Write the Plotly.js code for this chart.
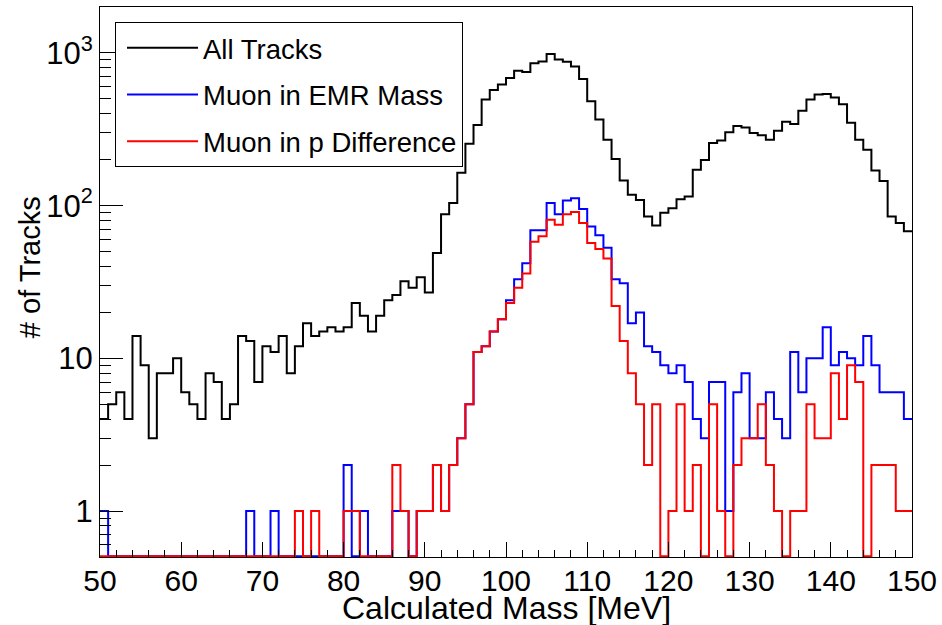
<!DOCTYPE html>
<html><head><meta charset="utf-8">
<script src="https://cdn.plot.ly/plotly-3.0.1.min.js"></script>
<style>html,body{margin:0;padding:0;background:#fff}#chart{width:942px;height:625px}</style>
</head><body><div id="chart"></div>
<script>
// Histogram binning (1 MeV bins from 50 to 150 MeV)
const binStart = 50;
const binWidth = 1;

// Counts per bin, 50-51, 51-52, ... 149-150 MeV
const allTracks = [
  4, 5, 6, 4, 14, 9, 3, 8, 8, 10,
  6, 5, 4, 8, 7, 4, 5, 14, 13, 7,
  12, 11, 14, 8, 12, 17, 14, 15, 16, 15,
  16, 23, 19, 15, 19, 24, 26, 32, 29, 34,
  27, 49, 88, 104, 164, 254, 338, 495, 573, 621,
  686, 765, 750, 855, 880, 985, 905, 875, 815, 675,
  483, 366, 270, 202, 146, 118, 109, 85, 74, 90,
  96, 110, 115, 172, 199, 257, 267, 302, 333, 325,
  299, 289, 270, 309, 354, 343, 418, 495, 534, 539,
  510, 461, 349, 270, 232, 170, 145, 85, 77, 68
];
const muonEMRMass = [
  1, 0, 0, 0, 0, 0, 0, 0, 0, 0,
  0, 0, 0, 0, 0, 0, 0, 0, 1, 0,
  0, 1, 0, 0, 0, 0, 0, 0, 0, 0,
  2, 0, 1, 0, 0, 0, 1, 1, 0, 1,
  1, 2, 1, 2, 3, 5, 11, 12, 15, 18,
  24, 33, 42, 69, 69, 104, 88, 108, 112, 95,
  73, 64, 53, 33, 31, 17, 20, 12, 11, 9,
  8, 9, 7, 4, 3, 7, 7, 1, 6, 8,
  3, 3, 6, 4, 3, 11, 6, 10, 10, 16,
  9, 11, 10, 9, 14, 9, 6, 6, 6, 4
];
const muonPDiff = [
  0, 0, 0, 0, 0, 0, 0, 0, 0, 0,
  0, 0, 0, 0, 0, 0, 0, 0, 0, 0,
  0, 0, 0, 0, 1, 0, 1, 0, 0, 0,
  1, 1, 0, 0, 0, 0, 2, 1, 0, 1,
  1, 2, 1, 2, 3, 5, 11, 12, 15, 18,
  23, 29, 36, 58, 63, 81, 75, 88, 91, 77,
  57, 52, 45, 22, 13, 8, 5, 2, 5, 0,
  1, 5, 1, 2, 0, 5, 1, 0, 2, 3,
  3, 5, 2, 1, 0, 1, 1, 5, 3, 3,
  8, 4, 9, 7, 0, 2, 2, 2, 1, 1
];

const seriesNames = ['All Tracks', 'Muon in EMR Mass', 'Muon in p Difference'];
const seriesColors = ['#000000', '#0000ff', '#ff0000'];

const xTickVals = [50, 60, 70, 80, 90, 100, 110, 120, 130, 140, 150];
const yTickVals = [1, 10, 100, 1000];
const yTickText = ['1', '10', '10<sup>2</sup>', '10<sup>3</sup>'];
const xTitle = 'Calculated Mass [MeV]';
const yTitle = '# of Tracks';

const yMin = 0.5, yMax = 2000;
const FONT = 'Liberation Sans, Arial, Helvetica, sans-serif';

// Build step outlines from bin edges; empty bins are drawn on the frame floor (as ROOT does on log axes)
const floorVal = yMin * 1.012;
function stepTrace(counts, name, color) {
  const x = [], y = [];
  counts.forEach((c, i) => { x.push(binStart + i * binWidth); y.push(c > 0 ? c : floorVal); });
  x.push(binStart + counts.length * binWidth);
  y.push(counts[counts.length - 1] > 0 ? counts[counts.length - 1] : floorVal);
  return {
    type: 'scatter', mode: 'lines', x: x, y: y, name: name,
    line: {shape: 'hv', color: color, width: 2},
    hoverinfo: 'skip', legendgroup: name
  };
}

const data = [
  stepTrace(allTracks, seriesNames[0], seriesColors[0]),
  stepTrace(muonEMRMass, seriesNames[1], seriesColors[1]),
  stepTrace(muonPDiff, seriesNames[2], seriesColors[2])
];

const layout = {
  width: 942, height: 625,
  margin: {l: 100, r: 30, t: 7, b: 68, pad: 0},
  paper_bgcolor: '#ffffff', plot_bgcolor: '#ffffff',
  font: {family: FONT, color: '#000000', size: 30},
  showlegend: true,
  legend: {
    x: 0.0185, y: 0.972, xanchor: 'left', yanchor: 'top',
    bgcolor: '#ffffff', bordercolor: '#000000', borderwidth: 1,
    font: {family: FONT, size: 27.5, color: '#000000'},
    traceorder: 'grouped', tracegroupgap: 8, itemwidth: 71, indentation: 6
  },
  xaxis: {
    range: [50, 150], tickmode: 'array', tickvals: xTickVals,
    ticks: 'inside', ticklen: 15, tickwidth: 1, tickcolor: '#000000',
    minor: {tickmode: 'linear', tick0: 50, dtick: 2, ticks: 'inside', ticklen: 7, tickwidth: 1, tickcolor: '#000000'},
    showline: true, linecolor: '#000000', linewidth: 1, mirror: true,
    showgrid: false, zeroline: false,
    tickfont: {family: FONT, size: 30, color: '#000000'},
    ticklabelstandoff: -3
  },
  yaxis: {
    type: 'log', range: [Math.log10(yMin), Math.log10(yMax)],
    tickmode: 'array', tickvals: yTickVals, ticktext: yTickText,
    ticks: 'inside', ticklen: 23, tickwidth: 1, tickcolor: '#000000',
    minor: {tickmode: 'linear', dtick: 'D1', ticks: 'inside', ticklen: 11, tickwidth: 1, tickcolor: '#000000'},
    showline: true, linecolor: '#000000', linewidth: 1, mirror: true,
    showgrid: false, zeroline: false,
    tickfont: {family: FONT, size: 31, color: '#000000'}
  },
  annotations: [{
    text: yTitle, textangle: -90, showarrow: false,
    xref: 'paper', yref: 'paper', x: -0.0862, y: 0.527,
    xanchor: 'center', yanchor: 'middle',
    font: {family: FONT, size: 29, color: '#000000'}
  }, {
    text: xTitle, showarrow: false,
    xref: 'paper', yref: 'paper', x: 0.5, y: -0.0925,
    xanchor: 'center', yanchor: 'middle',
    font: {family: FONT, size: 32, color: '#000000'}
  }]
};

Plotly.newPlot('chart', data, layout, {displayModeBar: false, staticPlot: true});
</script>
</body></html>
